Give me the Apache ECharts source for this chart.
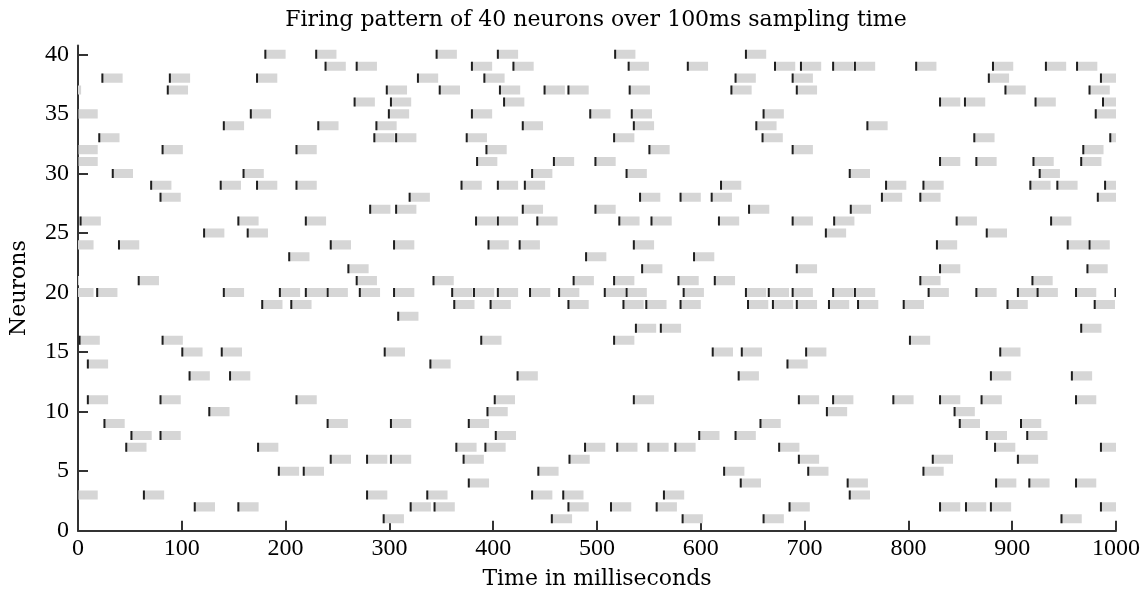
<!DOCTYPE html>
<html>
<head>
<meta charset="utf-8">
<script src="https://cdn.jsdelivr.net/npm/echarts@6/dist/echarts.min.js"></script>
<style>
html,body{margin:0;padding:0;background:#fff;}
#chart{width:1147px;height:591px;}
</style>
</head>
<body>
<div id="chart"></div>
<script>
// Spike times (ms) for each neuron (row 1 .. 40). Negative times = spikes just before the window.
const n01 = [294, 456, 582, 660, 947];
const n02 = [112, 154, 320, 343, 472, 513, 557, 685, 830, 855, 879, 985];
const n03 = [-1, 63, 278, 336, 437, 467, 564, 743];
const n04 = [376, 638, 741, 884, 916, 961];
const n05 = [193, 217, 443, 622, 703, 814];
const n06 = [243, 278, 301, 371, 473, 694, 823, 905];
const n07 = [46, 173, 364, 392, 488, 519, 549, 575, 675, 883, 985];
const n08 = [51, 79, 402, 598, 633, 875, 914];
const n09 = [25, 240, 301, 376, 657, 849, 908];
const n10 = [126, 394, 721, 844];
const n11 = [9, 79, 210, 401, 535, 694, 727, 785, 830, 870, 961];
const n12 = [];
const n13 = [107, 146, 423, 636, 879, 957];
const n14 = [9, 339, 683];
const n15 = [100, 138, 295, 611, 639, 701, 888];
const n16 = [1, 81, 388, 516, 801];
const n17 = [537, 561, 966];
const n18 = [308];
const n19 = [177, 205, 362, 397, 472, 525, 547, 580, 645, 669, 692, 723, 751, 795, 895, 979];
const n20 = [-5, 18, 140, 194, 219, 240, 271, 304, 360, 381, 404, 435, 463, 507, 528, 583, 643, 665, 688, 727, 748, 819, 865, 905, 924, 961, 999];
const n21 = [-19, 58, 268, 342, 477, 516, 578, 613, 811, 919];
const n22 = [260, 543, 692, 830, 972];
const n23 = [203, 489, 593];
const n24 = [-5, 39, 243, 304, 395, 425, 535, 827, 953, 974];
const n25 = [121, 163, 720, 875];
const n26 = [2, 154, 219, 383, 404, 442, 521, 552, 617, 688, 728, 846, 937];
const n27 = [281, 306, 428, 498, 646, 744];
const n28 = [79, 319, 541, 580, 610, 774, 811, 982];
const n29 = [70, 137, 172, 210, 369, 404, 430, 619, 778, 814, 917, 943, 989];
const n30 = [33, 159, 437, 528, 743, 926];
const n31 = [-1, 384, 458, 498, 830, 865, 920, 966];
const n32 = [-1, 81, 210, 393, 550, 688, 968];
const n33 = [20, 285, 306, 374, 516, 659, 863, 994];
const n34 = [140, 231, 287, 428, 535, 653, 760];
const n35 = [-1, 166, 299, 379, 493, 533, 660, 980];
const n36 = [266, 301, 410, 830, 854, 922, 987];
const n37 = [-17, 86, 297, 348, 406, 449, 472, 531, 629, 692, 893, 974];
const n38 = [23, 88, 172, 327, 391, 633, 688, 877, 985];
const n39 = [238, 268, 379, 419, 530, 587, 671, 696, 727, 748, 807, 881, 932, 962];
const n40 = [180, 229, 345, 404, 517, 643];

const neurons = [n01,n02,n03,n04,n05,n06,n07,n08,n09,n10,n11,n12,n13,n14,n15,n16,n17,n18,n19,n20,
                 n21,n22,n23,n24,n25,n26,n27,n28,n29,n30,n31,n32,n33,n34,n35,n36,n37,n38,n39,n40];
const refractory = 20; // ms, length of grey bar after each spike
const yTicks = [0, 5, 10, 15, 20, 25, 30, 35, 40];

const points = [];
neurons.forEach((arr, i) => arr.forEach(t => points.push([t, i + 1])));

const LABEL_FONT = 'Liberation Serif';
const TEXT_FONT = 'DejaVu Serif';
const chart = echarts.init(document.getElementById('chart'), null, {renderer: 'canvas'});

function barItem(params, api) {
  const t = api.value(0), n = api.value(1);
  const p0 = api.coord([t, n]);
  const p1 = api.coord([t + refractory, n]);
  const h = api.size([0, 0.76])[1];
  return {type: 'rect', shape: {x: p0[0], y: p0[1] - h / 2, width: p1[0] - p0[0], height: h},
          style: {fill: '#d6d6d6'}};
}
function tickItem(params, api) {
  const t = api.value(0), n = api.value(1);
  const p0 = api.coord([t, n]);
  const h = api.size([0, 0.76])[1];
  return {type: 'rect', shape: {x: p0[0] - 0.5, y: p0[1] - h / 2, width: 2, height: h},
          style: {fill: '#1e1e1e'}};
}

chart.setOption({
  animation: false,
  backgroundColor: '#fff',
  graphic: [{
    type: 'text', x: 596, y: 20,
    style: {text: 'Firing pattern of 40 neurons over 100ms sampling time', font: '22px "DejaVu Serif"',
            fill: '#000', textAlign: 'center', textVerticalAlign: 'middle'}
  }],
  grid: {left: 78, right: 31, top: 45.4, bottom: 60.3, containLabel: false, outerBoundsMode: 'none'},
  xAxis: {
    type: 'value', min: 0, max: 1000, interval: 100,
    name: 'Time in milliseconds', nameLocation: 'middle', nameGap: 38,
    nameTextStyle: {fontFamily: TEXT_FONT, fontSize: 22, color: '#000'},
    axisLine: {onZero: false, lineStyle: {color: '#333', width: 2}},
    axisTick: {inside: true, length: 10, lineStyle: {color: '#333', width: 2}},
    axisLabel: {fontFamily: LABEL_FONT, fontSize: 24, color: '#000', margin: 6,
                formatter: v => String(v)},
    splitLine: {show: false}
  },
  yAxis: {
    type: 'value', min: 0, max: 40.75,
    name: 'Neurons', nameLocation: 'middle', nameGap: 48, nameRotate: 90,
    nameTextStyle: {fontFamily: TEXT_FONT, fontSize: 22, color: '#000'},
    axisLine: {show: true, onZero: false, lineStyle: {color: '#333', width: 2}},
    axisTick: {show: true, inside: true, length: 10, customValues: yTicks, lineStyle: {color: '#333', width: 2}},
    axisLabel: {fontFamily: LABEL_FONT, fontSize: 24, color: '#000', margin: 9, customValues: yTicks,
                formatter: v => String(v)},
    splitLine: {show: false}
  },
  series: [
    {type: 'custom', renderItem: barItem, data: points, clip: true, encode: {x: 0, y: 1}, silent: true},
    {type: 'custom', renderItem: tickItem, data: points, clip: true, encode: {x: 0, y: 1}, silent: true}
  ]
});
</script>
</body>
</html>
